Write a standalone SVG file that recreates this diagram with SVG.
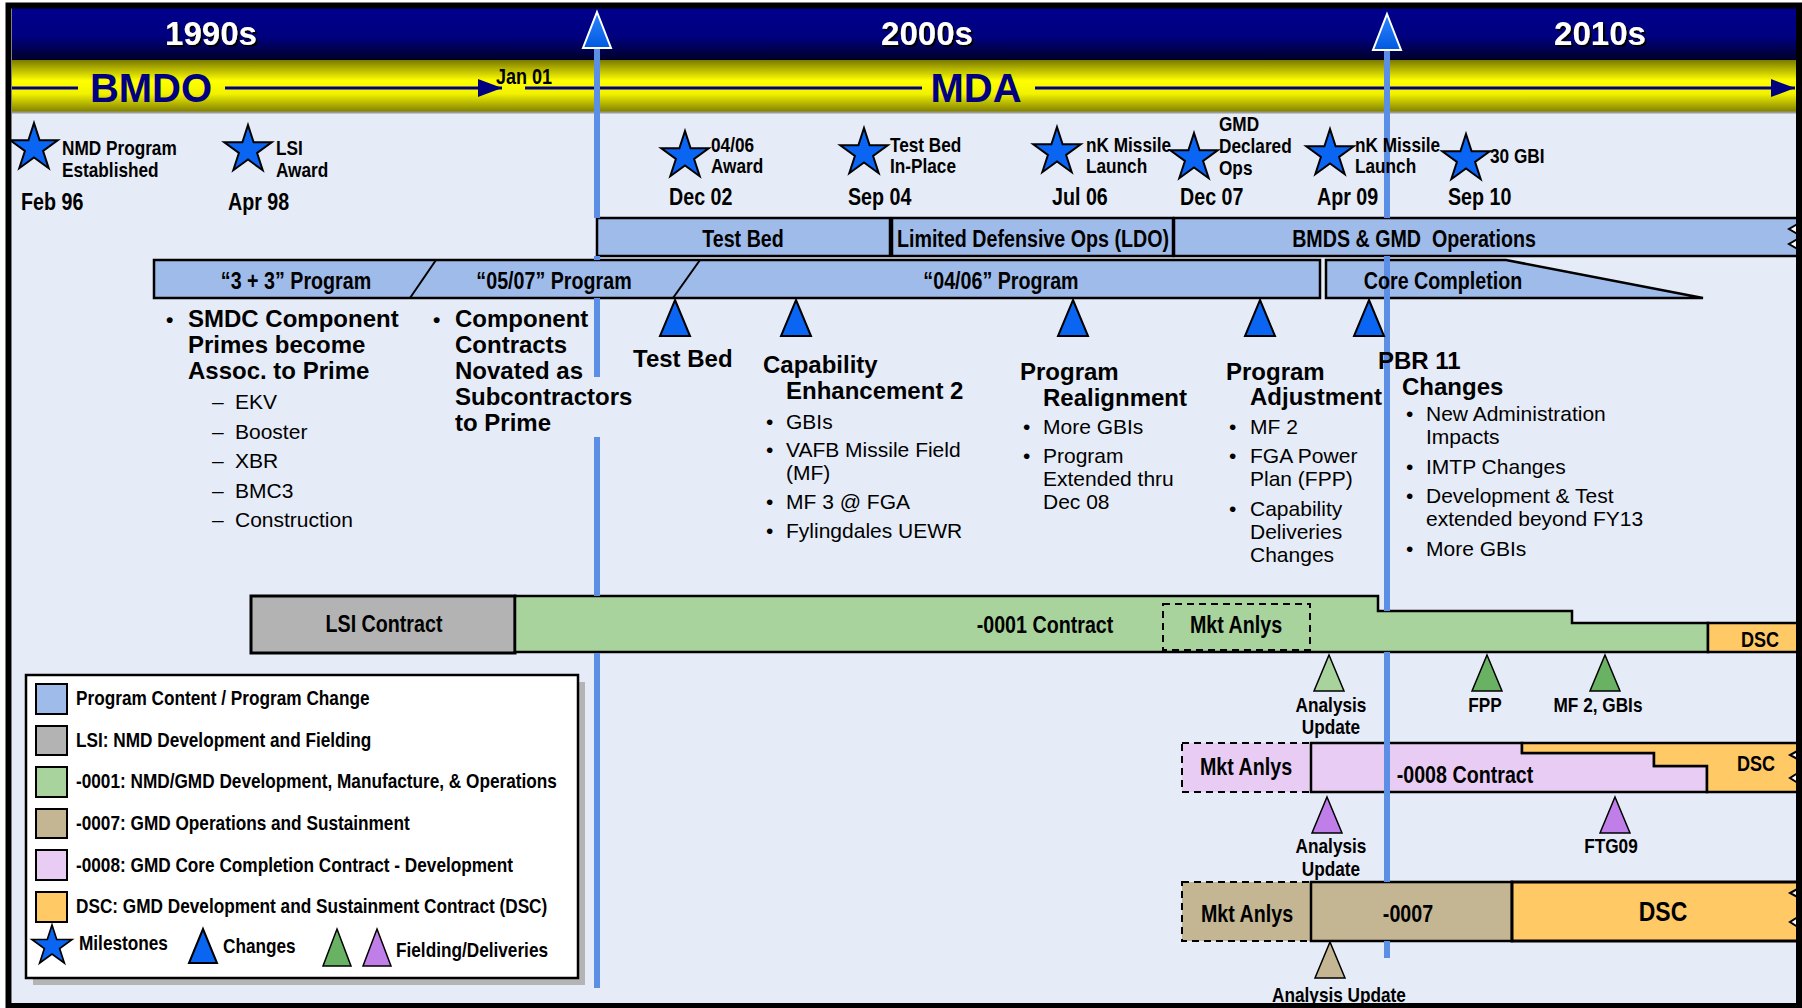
<svg xmlns="http://www.w3.org/2000/svg" width="1802" height="1008" viewBox="0 0 1802 1008">
<style>
.hd{font-family:"Liberation Sans",Arial,sans-serif;font-weight:bold}
.nb{font-family:"Liberation Sans Narrow","Arial Narrow","Liberation Sans",sans-serif;font-weight:bold}
.rg{font-family:"Liberation Sans",Arial,sans-serif}
.star{fill:#0a66f2;stroke:#000;stroke-width:2}
.chg{fill:#0a66f2;stroke:#000;stroke-width:2}
.box{fill:#9ebbe9;stroke:#000;stroke-width:2.5}
.vline{stroke:#5b8fe6;stroke-width:6;fill:none}
.navyl{stroke:#000080;stroke-width:3;fill:none}
.dash{stroke:#000;stroke-width:2;stroke-dasharray:7 5}
.brk{fill:#fff;stroke:#000;stroke-width:2}
</style>
<defs>
<linearGradient id="navy" x1="0" y1="0" x2="0" y2="1">
<stop offset="0" stop-color="#00008c"/><stop offset="0.55" stop-color="#000080"/><stop offset="1" stop-color="#000028"/>
</linearGradient>
<linearGradient id="yel" x1="0" y1="0" x2="0" y2="1">
<stop offset="0" stop-color="#7a7a00"/><stop offset="0.4" stop-color="#ffff00"/><stop offset="0.65" stop-color="#f2f200"/><stop offset="1" stop-color="#7f7f00"/>
</linearGradient>
<linearGradient id="mk" x1="0" y1="0" x2="0" y2="1">
<stop offset="0" stop-color="#2f86ff"/><stop offset="1" stop-color="#0058e0"/>
</linearGradient>
<filter id="sh" x="-10%" y="-10%" width="130%" height="140%"><feDropShadow dx="2" dy="2" stdDeviation="0" flood-color="#000" flood-opacity="1"/></filter>
<path id="star" d="M0,-25 L5.61,-7.73 L23.78,-7.73 L9.08,2.95 L14.69,20.23 L0,9.55 L-14.69,20.23 L-9.08,2.95 L-23.78,-7.73 L-5.61,-7.73 Z"/>
<path id="tri" d="M0,0 L15,36 L-15,36 Z"/>
<marker id="arr" markerUnits="userSpaceOnUse" viewBox="0 0 24 18" refX="24" refY="9" markerWidth="24" markerHeight="18" orient="auto">
<path d="M0,0 L24,9 L0,18 Z" fill="#000080"/>
</marker>
</defs>

<rect x="0" y="0" width="1802" height="1008" fill="#fff"/>
<rect x="12" y="112" width="1786" height="894" fill="#e6ecf7"/>

<!-- header -->
<g id="header">
<rect x="12" y="8" width="1786" height="52" fill="url(#navy)"/>
<rect x="12" y="60" width="1786" height="52" fill="url(#yel)"/>
<line x1="12" y1="112.5" x2="1798" y2="112.5" stroke="#9a9a9a" stroke-width="2"/>
<text class="hd" x="211" y="45" font-size="33" fill="#fff" text-anchor="middle" filter="url(#sh)">1990s</text>
<text class="hd" x="927" y="45" font-size="33" fill="#fff" text-anchor="middle" filter="url(#sh)">2000s</text>
<text class="hd" x="1600" y="45" font-size="33" fill="#fff" text-anchor="middle" filter="url(#sh)">2010s</text>
<line class="navyl" x1="12" y1="88" x2="78" y2="88"/>
<text class="hd" x="151" y="102" font-size="40" fill="#000080" text-anchor="middle">BMDO</text>
<line class="navyl" x1="225" y1="88" x2="502" y2="88" marker-end="url(#arr)"/>
<text class="nb" x="496" y="84" font-size="22" fill="#000" transform="matrix(.82,0,0,1,89.28,0)">Jan 01</text>
<line class="navyl" x1="525" y1="88" x2="922" y2="88"/>
<text class="hd" x="976" y="102" font-size="40" fill="#000080" text-anchor="middle">MDA</text>
<line class="navyl" x1="1035" y1="88" x2="1795" y2="88" marker-end="url(#arr)"/>
</g>

<!-- program phase boxes -->
<g id="ph-testbed">
<rect class="box" x="597" y="218" width="293" height="38"/>
<text class="nb" x="743" y="247" font-size="24" text-anchor="middle" transform="matrix(.82,0,0,1,133.74,0)">Test Bed</text>
</g>
<g id="ph-ldo">
<rect class="box" x="892" y="218" width="281" height="38"/>
<text class="nb" x="1033" y="247" font-size="24" text-anchor="middle" transform="matrix(.82,0,0,1,185.94,0)">Limited Defensive Ops (LDO)</text>
</g>
<g id="ph-bmds">
<rect class="box" x="1174" y="218" width="630" height="38"/>
<text class="nb" x="1414" y="247" font-size="24" text-anchor="middle" xml:space="preserve" transform="matrix(.82,0,0,1,254.52,0)">BMDS &amp; GMD  Operations</text>
<polygon class="brk" points="1801,222 1789,229 1801,236"/>
<polygon class="brk" points="1801,237 1789,244 1801,251"/>
</g>

<g id="prog-bar">
<rect class="box" x="154" y="260" width="1166" height="38"/>
<line x1="410" y1="298" x2="436" y2="260" stroke="#000" stroke-width="2"/>
<line x1="673" y1="298" x2="700" y2="260" stroke="#000" stroke-width="2"/>
<text class="nb" x="296" y="289" font-size="24" text-anchor="middle" transform="matrix(.82,0,0,1,53.28,0)">“3 + 3” Program</text>
<text class="nb" x="554" y="289" font-size="24" text-anchor="middle" transform="matrix(.82,0,0,1,99.72,0)">“05/07” Program</text>
<text class="nb" x="1001" y="289" font-size="24" text-anchor="middle" transform="matrix(.82,0,0,1,180.18,0)">“04/06” Program</text>
</g>
<g id="core-completion">
<polygon class="box" points="1326,260 1506,260 1703,298 1326,298"/>
</g>

<!-- contract bars -->
<g id="c-lsi">
<rect x="251" y="596" width="264" height="57" fill="#b3b3b3" stroke="#000" stroke-width="3"/>
<text class="nb" x="384" y="632" font-size="24" text-anchor="middle" transform="matrix(.82,0,0,1,69.12,0)">LSI Contract</text>
</g>
<g id="c-0001">
<path d="M515,596 H1378 V611 H1572 V623 H1708 V652 H515 Z" fill="#a8d39c" stroke="#000" stroke-width="2.5"/>
<text class="nb" x="1045" y="633" font-size="24" text-anchor="middle" transform="matrix(.82,0,0,1,188.1,0)">-0001 Contract</text>
</g>
<g id="c-0001-mkt">
<rect class="dash" x="1163" y="604" width="147" height="46" fill="none"/>
<text class="nb" x="1236" y="633" font-size="24" text-anchor="middle" transform="matrix(.82,0,0,1,222.48,0)">Mkt Anlys</text>
</g>
<g id="c-dsc1">
<rect x="1708" y="623" width="96" height="29" fill="#ffc966" stroke="#000" stroke-width="2.5"/>
<text class="nb" x="1760" y="647" font-size="22" text-anchor="middle" transform="matrix(.82,0,0,1,316.8,0)">DSC</text>
</g>

<g id="c-0008-mkt">
<rect class="dash" x="1182" y="743" width="129" height="49" fill="#e8ccf4"/>
<text class="nb" x="1246" y="775" font-size="24" text-anchor="middle" transform="matrix(.82,0,0,1,224.28,0)">Mkt Anlys</text>
</g>
<g id="c-0008">
<path d="M1311,743 H1522 V753 H1654 V766 H1707 V792 H1311 Z" fill="#e8ccf4" stroke="#000" stroke-width="2.5"/>
</g>
<g id="c-dsc2">
<path d="M1522,743 H1804 V792 H1707 V766 H1654 V753 H1522 Z" fill="#ffc966" stroke="#000" stroke-width="2.5"/>
<text class="nb" x="1756" y="771" font-size="22" text-anchor="middle" transform="matrix(.82,0,0,1,316.08,0)">DSC</text>
<polygon class="brk" points="1801,749 1790,755 1801,761"/>
<polygon class="brk" points="1801,771 1790,778 1801,785"/>
</g>

<g id="c-0007-mkt">
<rect class="dash" x="1182" y="882" width="129" height="59" fill="#c4b593"/>
<text class="nb" x="1247" y="922" font-size="24" text-anchor="middle" transform="matrix(.82,0,0,1,224.46,0)">Mkt Anlys</text>
</g>
<g id="c-0007">
<rect x="1311" y="882" width="201" height="59" fill="#c4b593" stroke="#000" stroke-width="2.5"/>
<text class="nb" x="1408" y="922" font-size="24" text-anchor="middle" transform="matrix(.82,0,0,1,253.44,0)">-0007</text>
</g>
<g id="c-dsc3">
<rect x="1512" y="882" width="292" height="59" fill="#ffc966" stroke="#000" stroke-width="3"/>
<text class="nb" x="1663" y="921" font-size="28" text-anchor="middle" transform="matrix(.82,0,0,1,299.34,0)">DSC</text>
<polygon class="brk" points="1801,887 1790,893 1801,899"/>
<polygon class="brk" points="1801,915 1790,922 1801,929"/>
</g>

<!-- timeline markers (vertical) -->
<g id="connectors">
<path class="vline" d="M597,46 V218 M597,256 V260 M597,298 V377 M597,437 V596 M597,653 V988"/>
<path class="vline" d="M1387,48 V218 M1387,256 V611 M1387,652 V882 M1387,941 V958"/>
<polygon points="597,12 611,48 583,48" fill="url(#mk)" stroke="#fff" stroke-width="2"/>
<polygon points="1387,14 1401,50 1373,50" fill="url(#mk)" stroke="#fff" stroke-width="2"/>
</g>

<g id="core-completion-label">
<text class="nb" x="1443" y="289" font-size="24" text-anchor="middle" transform="matrix(.82,0,0,1,259.74,0)">Core Completion</text>
</g>
<g id="c-0008-label">
<text class="nb" x="1465" y="783" font-size="24" text-anchor="middle" transform="matrix(.82,0,0,1,263.7,0)">-0008 Contract</text>
</g>

<!-- milestones -->
<g id="ms-feb96">
<use href="#star" x="34" y="148" class="star"/>
<text class="nb" font-size="21" transform="matrix(.82,0,0,1,11.16,0)"><tspan x="62" y="155">NMD Program</tspan><tspan x="62" y="177">Established</tspan></text>
<text class="nb" x="21" y="210" font-size="24" transform="matrix(.82,0,0,1,3.78,0)">Feb 96</text>
</g>
<g id="ms-apr98">
<use href="#star" x="248" y="150" class="star"/>
<text class="nb" font-size="21" transform="matrix(.82,0,0,1,49.68,0)"><tspan x="276" y="155">LSI</tspan><tspan x="276" y="177">Award</tspan></text>
<text class="nb" x="228" y="210" font-size="24" transform="matrix(.82,0,0,1,41.04,0)">Apr 98</text>
</g>
<g id="ms-dec02">
<use href="#star" x="685" y="156" class="star"/>
<text class="nb" font-size="21" transform="matrix(.82,0,0,1,127.98,0)"><tspan x="711" y="152">04/06</tspan><tspan x="711" y="173">Award</tspan></text>
<text class="nb" x="669" y="205" font-size="24" transform="matrix(.82,0,0,1,120.42,0)">Dec 02</text>
</g>
<g id="ms-sep04">
<use href="#star" x="864" y="153" class="star"/>
<text class="nb" font-size="21" transform="matrix(.82,0,0,1,160.2,0)"><tspan x="890" y="152">Test Bed</tspan><tspan x="890" y="173">In-Place</tspan></text>
<text class="nb" x="848" y="205" font-size="24" transform="matrix(.82,0,0,1,152.64,0)">Sep 04</text>
</g>
<g id="ms-jul06">
<use href="#star" x="1057" y="152" class="star"/>
<text class="nb" font-size="21" transform="matrix(.82,0,0,1,195.48,0)"><tspan x="1086" y="152">nK Missile</tspan><tspan x="1086" y="173">Launch</tspan></text>
<text class="nb" x="1052" y="205" font-size="24" transform="matrix(.82,0,0,1,189.36,0)">Jul 06</text>
</g>
<g id="ms-dec07">
<use href="#star" x="1194" y="158" class="star"/>
<text class="nb" font-size="21" transform="matrix(.82,0,0,1,219.42,0)"><tspan x="1219" y="131">GMD</tspan><tspan x="1219" y="153">Declared</tspan><tspan x="1219" y="175">Ops</tspan></text>
<text class="nb" x="1180" y="205" font-size="24" transform="matrix(.82,0,0,1,212.4,0)">Dec 07</text>
</g>
<g id="ms-apr09">
<use href="#star" x="1330" y="154" class="star"/>
<text class="nb" font-size="21" transform="matrix(.82,0,0,1,243.9,0)"><tspan x="1355" y="152">nK Missile</tspan><tspan x="1355" y="173">Launch</tspan></text>
<text class="nb" x="1317" y="205" font-size="24" transform="matrix(.82,0,0,1,237.06,0)">Apr 09</text>
</g>
<g id="ms-sep10">
<use href="#star" x="1466" y="159" class="star"/>
<text class="nb" x="1490" y="163" font-size="21" transform="matrix(.82,0,0,1,268.2,0)">30 GBI</text>
<text class="nb" x="1448" y="205" font-size="24" transform="matrix(.82,0,0,1,260.64,0)">Sep 10</text>
</g>

<!-- change triangles -->
<g id="chg-testbed">
<use href="#tri" x="675" y="300" class="chg"/>
<text class="hd" x="633" y="367" font-size="24">Test Bed</text>
</g>
<g id="chg-ce2">
<use href="#tri" x="796" y="300" class="chg"/>
<text class="hd" font-size="24"><tspan x="763" y="373">Capability</tspan><tspan x="786" y="399">Enhancement 2</tspan></text>
<text class="rg" font-size="21">
<tspan x="766" y="429">•</tspan><tspan x="786" y="429">GBIs</tspan>
<tspan x="766" y="457">•</tspan><tspan x="786" y="457">VAFB Missile Field</tspan>
<tspan x="786" y="480">(MF)</tspan>
<tspan x="766" y="509">•</tspan><tspan x="786" y="509">MF 3 @ FGA</tspan>
<tspan x="766" y="538">•</tspan><tspan x="786" y="538">Fylingdales UEWR</tspan>
</text>
</g>
<g id="chg-realign">
<use href="#tri" x="1073" y="300" class="chg"/>
<text class="hd" font-size="24"><tspan x="1020" y="380">Program</tspan><tspan x="1043" y="406">Realignment</tspan></text>
<text class="rg" font-size="21">
<tspan x="1023" y="434">•</tspan><tspan x="1043" y="434">More GBIs</tspan>
<tspan x="1023" y="463">•</tspan><tspan x="1043" y="463">Program</tspan>
<tspan x="1043" y="486">Extended thru</tspan>
<tspan x="1043" y="509">Dec 08</tspan>
</text>
</g>
<g id="chg-adjust">
<use href="#tri" x="1260" y="300" class="chg"/>
<text class="hd" font-size="24"><tspan x="1226" y="380">Program</tspan><tspan x="1250" y="405">Adjustment</tspan></text>
<text class="rg" font-size="21">
<tspan x="1229" y="434">•</tspan><tspan x="1250" y="434">MF 2</tspan>
<tspan x="1229" y="463">•</tspan><tspan x="1250" y="463">FGA Power</tspan>
<tspan x="1250" y="486">Plan (FPP)</tspan>
<tspan x="1229" y="516">•</tspan><tspan x="1250" y="516">Capability</tspan>
<tspan x="1250" y="539">Deliveries</tspan>
<tspan x="1250" y="562">Changes</tspan>
</text>
</g>
<g id="chg-pbr11">
<use href="#tri" x="1369" y="300" class="chg"/>
<text class="hd" font-size="24"><tspan x="1378" y="369">PBR 11</tspan><tspan x="1402" y="395">Changes</tspan></text>
<text class="rg" font-size="21">
<tspan x="1406" y="421">•</tspan><tspan x="1426" y="421">New Administration</tspan>
<tspan x="1426" y="444">Impacts</tspan>
<tspan x="1406" y="474">•</tspan><tspan x="1426" y="474">IMTP Changes</tspan>
<tspan x="1406" y="503">•</tspan><tspan x="1426" y="503">Development &amp; Test</tspan>
<tspan x="1426" y="526">extended beyond FY13</tspan>
<tspan x="1406" y="556">•</tspan><tspan x="1426" y="556">More GBIs</tspan>
</text>
</g>

<!-- left notes -->
<g id="note-smdc">
<text class="hd" font-size="24"><tspan x="166" y="327" font-size="21">•</tspan><tspan x="188" y="327">SMDC Component</tspan><tspan x="188" y="353">Primes become</tspan><tspan x="188" y="379">Assoc. to Prime</tspan></text>
<text class="rg" font-size="21">
<tspan x="212" y="409">–</tspan><tspan x="235" y="409">EKV</tspan>
<tspan x="212" y="439">–</tspan><tspan x="235" y="439">Booster</tspan>
<tspan x="212" y="468">–</tspan><tspan x="235" y="468">XBR</tspan>
<tspan x="212" y="498">–</tspan><tspan x="235" y="498">BMC3</tspan>
<tspan x="212" y="527">–</tspan><tspan x="235" y="527">Construction</tspan>
</text>
</g>
<g id="note-novated">
<text class="hd" font-size="24"><tspan x="433" y="327" font-size="21">•</tspan><tspan x="455" y="327">Component</tspan><tspan x="455" y="353">Contracts</tspan><tspan x="455" y="379">Novated as</tspan><tspan x="455" y="405">Subcontractors</tspan><tspan x="455" y="431">to Prime</tspan></text>
</g>

<!-- fielding / deliveries -->
<g id="fd-au1">
<use href="#tri" x="1329" y="655" fill="#a8d39c" stroke="#000" stroke-width="1.5"/>
<text class="nb" font-size="21" text-anchor="middle" transform="matrix(.82,0,0,1,239.58,0)"><tspan x="1331" y="712">Analysis</tspan><tspan x="1331" y="734">Update</tspan></text>
</g>
<g id="fd-fpp">
<use href="#tri" x="1487" y="655" fill="#6ab263" stroke="#000" stroke-width="1.5"/>
<text class="nb" x="1485" y="712" font-size="21" text-anchor="middle" transform="matrix(.82,0,0,1,267.3,0)">FPP</text>
</g>
<g id="fd-mf2">
<use href="#tri" x="1605" y="655" fill="#6ab263" stroke="#000" stroke-width="1.5"/>
<text class="nb" x="1598" y="712" font-size="21" text-anchor="middle" transform="matrix(.82,0,0,1,287.64,0)">MF 2, GBIs</text>
</g>
<g id="fd-au2">
<use href="#tri" x="1327" y="797" fill="#c07ee8" stroke="#000" stroke-width="1.5"/>
<text class="nb" font-size="21" text-anchor="middle" transform="matrix(.82,0,0,1,239.58,0)"><tspan x="1331" y="853">Analysis</tspan><tspan x="1331" y="876">Update</tspan></text>
</g>
<g id="fd-ftg09">
<use href="#tri" x="1615" y="797" fill="#c07ee8" stroke="#000" stroke-width="1.5"/>
<text class="nb" x="1611" y="853" font-size="21" text-anchor="middle" transform="matrix(.82,0,0,1,289.98,0)">FTG09</text>
</g>
<g id="fd-au3">
<use href="#tri" x="1330" y="942" fill="#c4b593" stroke="#000" stroke-width="1.5"/>
<text class="nb" x="1339" y="1002" font-size="21" text-anchor="middle" transform="matrix(.82,0,0,1,241.02,0)">Analysis Update</text>
</g>

<!-- legend -->
<g id="legend">
<rect x="33" y="682" width="552" height="303" fill="#b4b4b4"/>
<rect x="26" y="675" width="552" height="303" fill="#fff" stroke="#000" stroke-width="2.5"/>
<rect x="36" y="684" width="31" height="30" fill="#9ebbe9" stroke="#000" stroke-width="2"/>
<rect x="36" y="726" width="31" height="29" fill="#b3b3b3" stroke="#000" stroke-width="2"/>
<rect x="36" y="767" width="31" height="30" fill="#a8d39c" stroke="#000" stroke-width="2"/>
<rect x="36" y="809" width="31" height="29" fill="#c4b593" stroke="#000" stroke-width="2"/>
<rect x="36" y="850" width="31" height="30" fill="#e8ccf4" stroke="#000" stroke-width="2"/>
<rect x="36" y="892" width="31" height="30" fill="#ffc966" stroke="#000" stroke-width="2"/>
<text class="nb" font-size="21" transform="matrix(.82,0,0,1,13.68,0)">
<tspan x="76" y="705">Program Content / Program Change</tspan>
<tspan x="76" y="747">LSI: NMD Development and Fielding</tspan>
<tspan x="76" y="788">-0001: NMD/GMD Development, Manufacture, &amp; Operations</tspan>
<tspan x="76" y="830">-0007: GMD Operations and Sustainment</tspan>
<tspan x="76" y="872">-0008: GMD Core Completion Contract - Development</tspan>
<tspan x="76" y="913">DSC: GMD Development and Sustainment Contract (DSC)</tspan>
</text>
<use href="#star" transform="translate(52,946) scale(0.84)" class="star"/>
<text class="nb" x="79" y="950" font-size="21" transform="matrix(.82,0,0,1,14.22,0)">Milestones</text>
<polygon points="203,929 217,963 189,963" class="chg"/>
<text class="nb" x="223" y="953" font-size="21" transform="matrix(.82,0,0,1,40.14,0)">Changes</text>
<polygon points="337,929 351,966 323,966" fill="#6ab263" stroke="#000" stroke-width="1.5"/>
<polygon points="377,929 391,966 363,966" fill="#c07ee8" stroke="#000" stroke-width="1.5"/>
<text class="nb" x="396" y="957" font-size="21" transform="matrix(.82,0,0,1,71.28,0)">Fielding/Deliveries</text>
</g>

<rect x="8.5" y="5.5" width="1790.5" height="1000.5" fill="none" stroke="#000" stroke-width="6"/>
</svg>
